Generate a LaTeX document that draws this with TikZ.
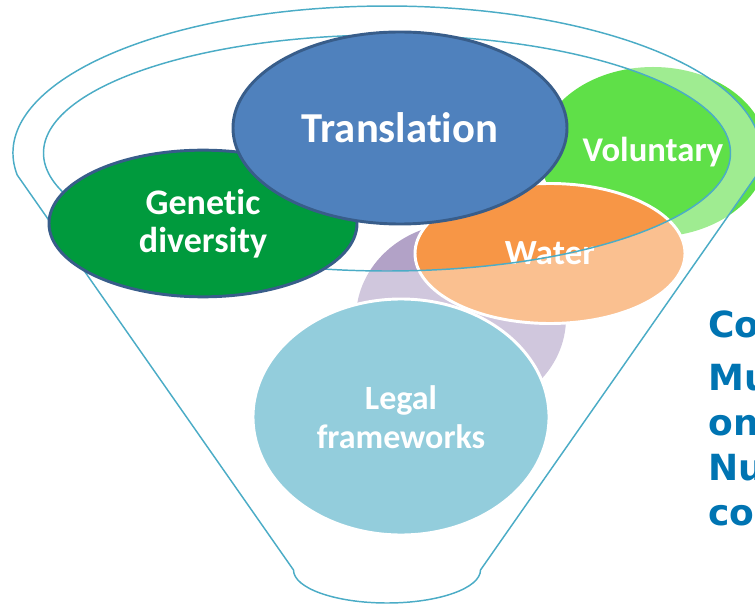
\documentclass[tikz,border=0pt]{standalone}
\usepackage{fontspec}
\setmainfont{Carlito}[Ligatures=NoCommon]
\newfontfamily\notefont{DejaVu Sans}
\usetikzlibrary{shapes.geometric}

\definecolor{funnelline}{RGB}{75,172,198}
\definecolor{transblue}{RGB}{79,129,189}
\definecolor{bubbleedge}{RGB}{56,93,138}
\definecolor{genegreen}{RGB}{0,154,61}
\definecolor{volgreen}{RGB}{95,224,72}
\definecolor{waterorange}{RGB}{247,150,70}
\definecolor{lilac}{RGB}{178,162,199}
\definecolor{legalaqua}{RGB}{75,172,198}
\definecolor{noteblue}{RGB}{0,116,178}

\tikzset{
  bubble/.style={ellipse, inner sep=0pt, text=white, align=center,
    font=\bfseries\fontsize{26}{31}\selectfont},
  note/.style={anchor=base west, inner sep=0pt, text=noteblue,
    font=\notefont\bfseries\fontsize{27}{32}\selectfont}
}

\begin{document}
\begin{tikzpicture}[x=0.75pt, y=0.75pt]
        \useasboundingbox (0,0) rectangle (755,-605);
        \clip (0,0) rectangle (755,-605);

        % bubbles behind the funnel
        \node[bubble, fill=lilac, minimum width=157.5pt, minimum height=142.5pt] at (461,-318) (lilac) {};
        \node[bubble, fill=volgreen, minimum width=171pt, minimum height=127.5pt] at (653,-152) (voluntary) {Voluntary};
        \node[bubble, fill=waterorange, draw=white, line width=2.2pt, minimum width=202.5pt, minimum height=105pt,
              font=\bfseries\fontsize{26.5}{31}\selectfont] at (550,-253.5) (water) {Water};
        \node[bubble, fill=legalaqua, draw=white, line width=2.2pt, minimum width=222pt, minimum height=177pt,
              font=\bfseries\fontsize{25.5}{29}\selectfont] at (401,-417) (legal) {Legal\\frameworks};

        % funnel
        \path[fill=white, fill opacity=0.4, draw=funnelline, line width=1.1pt, even odd rule]
          (17.2,-175) arc[start angle=188.6, end angle=-8.6, x radius=374, y radius=147]
          -- (480.5,-570) arc[start angle=0, end angle=-180, x radius=93.5, y radius=33] -- cycle
          (387,-153) ellipse [x radius=343.5, y radius=118];

        % bubbles in front
        \node[bubble, fill=genegreen, draw=bubbleedge, line width=2.2pt, minimum width=231pt, minimum height=110pt,
              font=\bfseries\fontsize{27}{28.5}\selectfont] at (203,-223.5) (genetic) {Genetic\\diversity};
        \node[bubble, fill=transblue, draw=bubbleedge, line width=2.2pt, minimum width=250.5pt, minimum height=144pt,
              font=\bfseries\fontsize{32}{36}\selectfont] at (400,-128) (translation) {Translation};

        % side text
        \node[note] at (708,-337) (co) {Co};
        \node[note] at (708,-390) (mu) {Mu};
        \node[note] at (708,-435) (on) {on};
        \node[note] at (708,-480) (nu) {Nu};
        \node[note] at (708,-525) (co2) {co};
\end{tikzpicture}
\end{document}
